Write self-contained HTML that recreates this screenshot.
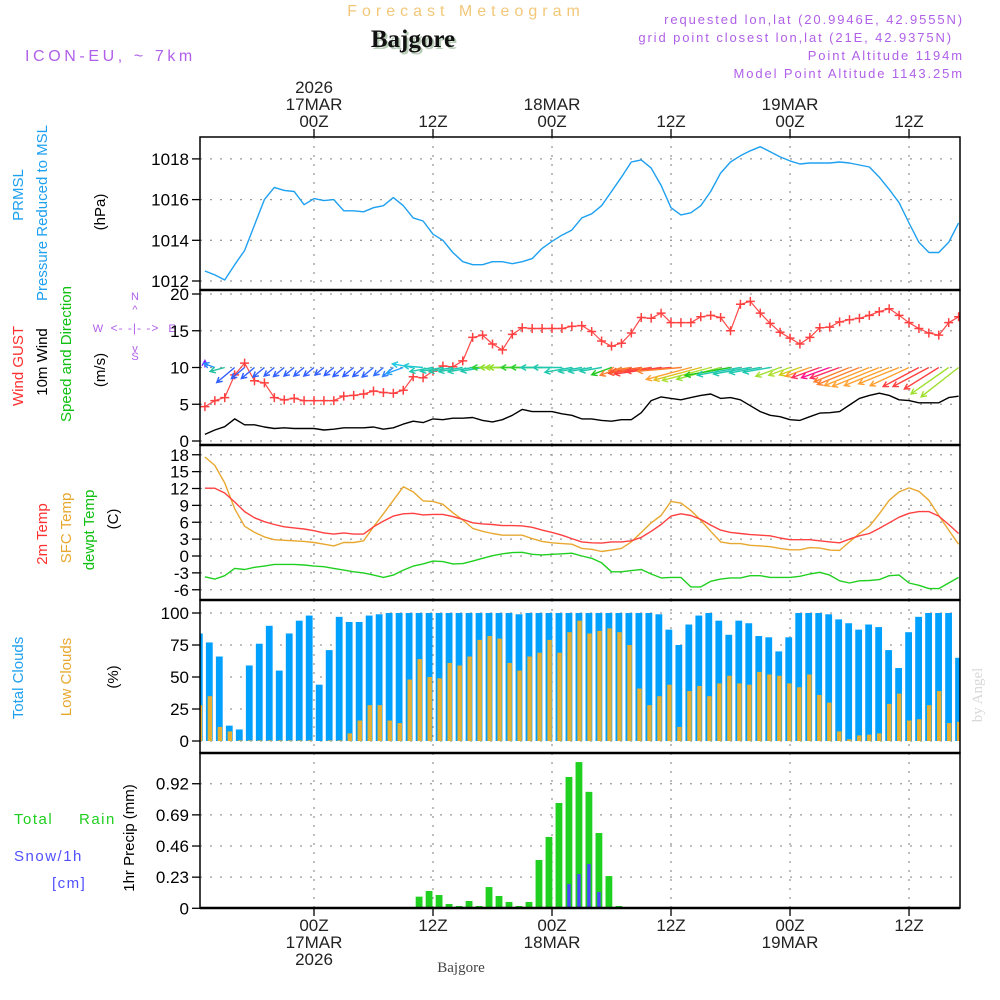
<!DOCTYPE html>
<html><head><meta charset="utf-8"><title>Forecast Meteogram Bajgore</title>
<style>
html,body{margin:0;padding:0;background:#fff;}
svg{display:block;font-family:"Liberation Sans",sans-serif;}
</style></head>
<body>
<svg id="chart" width="1000" height="1000" viewBox="0 0 1000 1000" xmlns="http://www.w3.org/2000/svg">
  <text x="466" y="16" text-anchor="middle" font-size="16" letter-spacing="5" fill="#f2c878">Forecast Meteogram</text>
  <text x="415" y="49" text-anchor="middle" font-size="25" font-weight="bold" font-family="Liberation Serif, serif" fill="#b8ccb8">Bajgore</text>
  <text x="413" y="47" text-anchor="middle" font-size="25" font-weight="bold" font-family="Liberation Serif, serif" fill="#111">Bajgore</text>
  <text x="25" y="61" font-size="16" letter-spacing="3.6" fill="#b060e8">ICON-EU, ~ 7km</text>
  <g font-size="13" letter-spacing="1.9" fill="#b060e8" text-anchor="end">
    <text x="964" y="24">requested lon,lat (20.9946E, 42.9555N)</text>
    <text x="953" y="42">grid point closest lon,lat (21E, 42.9375N)</text>
    <text x="964" y="60">Point Altitude 1194m</text>
    <text x="964" y="78">Model Point Altitude 1143.25m</text>
  </g>
  <text x="982" y="695" transform="rotate(-90 982 695)" text-anchor="middle" font-size="15" font-family="Liberation Serif, serif" fill="#d8d8d8">by Angel</text>
  <text x="461" y="972" text-anchor="middle" font-size="15" font-family="Liberation Serif, serif" fill="#444">Bajgore</text>

  <g font-size="15">
    <text transform="translate(23,195) rotate(-90)" text-anchor="middle" fill="#1ea0f0">PRMSL</text>
    <text transform="translate(47,213) rotate(-90)" text-anchor="middle" fill="#1ea0f0">Pressure Reduced to MSL</text>
    <text transform="translate(105,212) rotate(-90)" text-anchor="middle" fill="#000">(hPa)</text>
    <text transform="translate(23,366) rotate(-90)" text-anchor="middle" fill="#ff3030">Wind GUST</text>
    <text transform="translate(47,362) rotate(-90)" text-anchor="middle" fill="#000">10m Wind</text>
    <text transform="translate(71,354) rotate(-90)" text-anchor="middle" fill="#10c010">Speed and Direction</text>
    <text transform="translate(105,370) rotate(-90)" text-anchor="middle" fill="#000">(m/s)</text>
    <text transform="translate(47,534) rotate(-90)" text-anchor="middle" fill="#ff3030">2m Temp</text>
    <text transform="translate(71,528) rotate(-90)" text-anchor="middle" fill="#e8a830">SFC Temp</text>
    <text transform="translate(94,530) rotate(-90)" text-anchor="middle" fill="#10c010">dewpt Temp</text>
    <text transform="translate(118,519) rotate(-90)" text-anchor="middle" fill="#000">(C)</text>
    <text transform="translate(23,678) rotate(-90)" text-anchor="middle" fill="#1ea0f0">Total Clouds</text>
    <text transform="translate(71,677) rotate(-90)" text-anchor="middle" fill="#e8a830">Low Clouds</text>
    <text transform="translate(118,677) rotate(-90)" text-anchor="middle" fill="#000">(%)</text>
    <text transform="translate(134,838) rotate(-90)" text-anchor="middle" fill="#000">1hr Precip (mm)</text>
  </g>
  <g font-size="15" letter-spacing="1.5">
    <text x="14" y="824" fill="#20d020">Total</text>
    <text x="79" y="824" fill="#20d020">Rain</text>
    <text x="14" y="861" fill="#5050ff">Snow/1h</text>
    <text x="52" y="888" fill="#5050ff">[cm]</text>
  </g>
  <g fill="#b060e8" font-size="11">
    <text x="135" y="300" text-anchor="middle">N</text>
    <text x="135" y="313" text-anchor="middle">^</text>
    <text x="135" y="352" text-anchor="middle">v</text>
    <text x="135" y="360" text-anchor="middle">S</text>
    <text x="98" y="332" text-anchor="middle">W</text>
    <text x="172" y="332" text-anchor="middle">E</text>
    <text x="135" y="332" text-anchor="middle" font-size="12" letter-spacing="1">&lt;- -|- -&gt;</text>
  </g>
  <g id="plot"></g>
</svg>
<script>
const hourStart = -11;
const pressure = [1012.49,1012.3,1012.05,1012.8,1013.5,1014.75,1016,1016.6,1016.45,1016.4,1015.75,
1016.05,1015.95,1016,1015.45,1015.45,1015.4,1015.6,1015.7,1016.1,1015.7,1015.1,1014.95,
1014.3,1014.0,1013.4,1012.95,1012.8,1012.8,1012.95,1012.95,1012.85,1012.95,1013.1,1013.6,
1013.95,1014.25,1014.5,1015.1,1015.3,1015.7,1016.4,1017.1,1017.85,1017.95,1017.55,1016.7,
1015.6,1015.25,1015.35,1015.7,1016.4,1017.3,1017.85,1018.15,1018.4,1018.6,1018.35,1018.1,
1017.9,1017.75,1017.8,1017.8,1017.8,1017.85,1017.8,1017.7,1017.6,1017.1,1016.5,1015.85,
1014.85,1013.9,1013.4,1013.4,1013.9,1014.85];
const gust = [4.67,5.5,5.9,9.0,10.6,8.2,7.9,5.9,5.6,5.8,5.5,
5.5,5.5,5.5,6.1,6.2,6.4,6.8,6.6,6.5,6.9,8.75,8.6,
9.5,10.2,10.1,10.9,14.1,14.4,13.2,12.4,14.5,15.4,15.3,15.3,
15.3,15.3,15.6,15.7,14.9,13.6,12.9,13.3,14.7,16.8,16.7,17.4,
16.1,16.1,16.1,16.9,17.1,16.8,15.0,18.6,19.0,17.4,16.0,14.8,
14.0,13.2,14.1,15.4,15.5,16.2,16.5,16.7,17.1,17.6,18.0,17.1,
16.1,15.3,14.7,14.4,16.1,16.9];
const windSpeed = [0.9,1.5,1.95,3.0,2.2,2.2,1.9,1.7,1.8,1.7,1.7,
1.7,1.5,1.6,1.8,1.8,1.8,1.9,1.6,1.8,2.3,2.7,2.5,
3.0,2.9,3.1,3.1,3.2,2.8,2.6,2.9,3.5,4.3,4.0,4.0,
4.0,3.7,3.5,3.0,3.0,2.8,2.7,2.9,2.9,3.85,5.5,6.0,
5.8,5.6,5.9,6.2,6.4,5.8,5.9,5.6,4.8,4.0,3.5,3.3,
2.9,2.8,3.3,3.8,3.85,4.0,4.9,5.8,6.2,6.5,6.2,5.6,
5.5,5.2,5.2,5.2,5.9,6.1];
const windDir = [180,110,75,50,50,50,50,50,50,50,50,
50,50,50,50,50,50,50,50,50,70,100,95,
80,80,80,80,80,80,90,90,90,90,90,90,
90,90,80,80,80,80,70,70,82,82,82,82,
85,85,75,75,75,75,80,80,80,80,80,70,
70,70,70,70,70,70,68,68,68,68,68,68,
65,62,62,58,55,52];
const windColor = ["#9020ff","#2090ff","#20c0a0","#3060ff","#3060ff","#3060ff","#3060ff","#3060ff","#3060ff","#3060ff","#3060ff",
"#3060ff","#3060ff","#3060ff","#3060ff","#3060ff","#3060ff","#3068ff","#3070ff","#3080ff","#20a0ff","#20c8e0","#20c8d0",
"#20c8b0","#20c8b0","#20c8b0","#20c8b0","#20c8b0","#20c8b0","#30d030","#90e030","#a0e030","#90e030","#30d030","#30d030",
"#20c8b0","#20c8b0","#20c8b0","#20c8b0","#20c8b0","#20c8b0","#20c820","#ff8030","#ff8030","#ff6030","#ff5030","#ff4040",
"#ff4040","#ff8030","#ffa030","#e0c020","#b0e030","#90e030","#20c820","#20c8b0","#20c8b0","#20c8b0","#20c8b0","#a0e030",
"#b0e030","#d0d020","#ffa030","#ff3060","#ff1090","#ff3060","#ff8030","#ff8030","#ffa030","#ffa030","#ffa030","#ffa030",
"#ffa030","#ff4040","#ff4040","#ff4040","#a0e030","#a0e030"];
const temp2m = [12.06,12.06,11.2,9.6,7.9,6.8,6.1,5.6,5.2,5.0,4.8,
4.5,4.1,3.9,4.1,3.9,3.9,5.2,6.2,7.1,7.5,7.6,7.3,
7.4,7.4,7.0,6.5,5.9,5.7,5.6,5.4,5.4,5.35,5.1,4.6,
4.2,3.7,3.1,2.5,2.35,2.3,2.5,2.5,2.7,3.3,4.4,5.6,
7.1,7.5,7.2,6.5,5.5,4.6,4.2,4.0,3.8,3.7,3.6,3.2,
2.9,2.9,2.9,2.7,2.5,2.35,3.0,3.6,4.0,4.9,5.9,6.9,
7.6,7.9,7.9,7.1,5.6,4.0];
const tempSfc = [17.6,16.1,13.0,8.4,5.3,4.2,3.4,2.9,2.8,2.7,2.6,
2.4,2.1,1.8,2.4,2.4,2.7,5.2,7.5,9.9,12.3,11.4,9.8,
9.7,9.2,7.7,6.4,4.9,4.4,4.0,3.7,3.7,3.7,3.1,2.6,
2.35,2.2,2.1,1.35,1.2,0.8,1.05,1.35,2.5,4.2,5.9,7.2,
9.7,9.4,8.1,6.35,4.4,2.5,2.2,2.2,1.9,1.8,1.65,1.35,
1.1,1.1,1.5,1.4,1.05,1.0,2.5,4.0,5.3,7.5,9.9,11.4,
12.1,11.5,9.9,7.2,4.6,2.1];
const dewpt = [-3.7,-4.1,-3.5,-2.2,-2.4,-2.0,-1.8,-1.5,-1.5,-1.5,-1.6,
-1.8,-1.9,-2.2,-2.5,-2.8,-3.0,-3.4,-3.8,-3.4,-2.5,-1.8,-1.4,
-0.9,-1.0,-1.4,-1.35,-0.9,-0.4,0.06,0.4,0.6,0.65,0.3,0.2,
0.3,0.4,0.5,0,-0.4,-1.2,-2.8,-2.8,-2.6,-2.4,-3.2,-3.9,
-3.8,-3.8,-5.5,-5.5,-4.5,-4.1,-3.9,-3.9,-3.5,-3.5,-3.8,-3.8,
-3.8,-3.6,-3.2,-2.9,-3.4,-4.4,-4.8,-4.4,-4.35,-4.2,-3.5,-3.4,
-4.8,-5.2,-5.8,-5.8,-4.8,-3.8];
const barStart = -11.5;
const totalClouds = [84,77,66,12,9,59,76,90,55,84,
94,98,44,71,97,93,93,98,99,100,
100,100,100,100,100,100,100,100,100,100,
100,100,99,100,100,100,100,100,100,
100,100,100,100,100,100,100,99,87,75,91,
98,100,94,83,94,92,82,81,70,81,
100,100,100,99,95,92,87,91,89,71,
57,85,97,100,100,100,65];
const lowClouds = [28,35,11,7.5,0.5,0.5,0.5,0.5,0.5,0.5,
0.5,0.5,0,0.5,0.5,6,16,28,28,16,
14,48,64,50,49,61,59,66,79,82,
80,61,55,66,69,79,69,85,94,
84,86,88,85,75,41,28,35,44,11,39,
43,35,45,51,45,44,54,52,51,45,
42,52,36,30,7.5,1.3,4.4,5,6,29,
37,16,17,28,39,14,15];
const rain = [0,0,0,0,0,0,0,0,0,0,
0,0,0,0,0,0,0,0,0,0,
0,0,0.086,0.128,0.098,0.032,0.017,0.054,0.017,0.157,
0.091,0.047,0.017,0.047,0.357,0.527,0.778,0.97,1.08,0.86,
0.556,0.238,0.017,0,0,0,0,0,0,0,
0,0,0,0,0,0,0,0,0,0,
0,0,0,0,0,0,0,0,0,0,
0,0,0,0,0,0,0];
const snow = [0,0,0,0,0,0,0,0,0,0,
0,0,0,0,0,0,0,0,0,0,
0,0,0,0,0,0,0,0,0,0,
0,0,0,0,0,0.005,0.01,0.18,0.253,0.327,
0.12,0,0,0,0,0,0,0,0,0,
0,0,0,0,0,0,0,0,0,0,
0,0,0,0,0,0,0,0,0,0,
0,0,0,0,0,0,0];
const pressureTicks = [1012,1014,1016,1018];
const windTicks = [0,5,10,15,20];
const tempTicks = [-6,-3,0,3,6,9,12,15,18];
const cloudTicks = [0,25,50,75,100];
const precipTicks = [0,0.23,0.46,0.69,0.92];
const timeTicks = [0,12,24,36,48,60];
const topLabels = [["2026","17MAR","00Z"],["12Z"],["18MAR","00Z"],["12Z"],["19MAR","00Z"],["12Z"]];
const bottomLabels = [["00Z","17MAR","2026"],["12Z"],["00Z","18MAR"],["12Z"],["00Z","19MAR"],["12Z"]];

const X0 = 200, X1 = 960;
const xH = h => 314 + h * 9.917;
const xB = t => 314.2 + t * 9.99;
const yP = v => 281 - (v - 1012) * 20.35;
const yW = v => 441 - v * 7.35;
const yT = v => 556 - v * 5.625;
const yC = v => 741 - v * 1.28;
const yR = v => 908.3 - v * 135.4;
const panels = [
  {name:'pressure', top:137, bot:290, ticks:pressureTicks, y:yP, fmt:v=>String(v)},
  {name:'wind', top:290, bot:445, ticks:windTicks, y:yW, fmt:v=>String(v)},
  {name:'temp', top:445, bot:600, ticks:tempTicks, y:yT, fmt:v=>String(v)},
  {name:'clouds', top:600, bot:753, ticks:cloudTicks, y:yC, fmt:v=>String(v)},
  {name:'precip', top:753, bot:908, ticks:precipTicks, y:yR, fmt:v=>v===0?'0':v.toFixed(2)}
];

const NS = 'http://www.w3.org/2000/svg';
const root = document.getElementById('plot');
function mk(tag, attrs, parent) {
  const e = document.createElementNS(NS, tag);
  for (const k in attrs) e.setAttribute(k, attrs[k]);
  (parent || root).appendChild(e);
  return e;
}

const defs = mk('defs', {});
const clip = mk('clipPath', {id:'plotclip'}, defs);
mk('rect', {x:X0, y:137, width:X1-X0, height:771}, clip);

panels.forEach(p => {
  const g = mk('g', {});
  
  
  timeTicks.forEach(h => {
    const l = mk('line', {x1:xH(h), x2:xH(h), y1:p.top, y2:p.bot, stroke:'#9a9a9a', 'stroke-width':1.3, 'stroke-dasharray':'2 7'}, g);
    
    
  });
  p.ticks.forEach(v => {
    const yy = p.y(v);
    const gl = mk('line', {x1:X0, x2:X1, y1:yy, y2:yy, stroke:'#9a9a9a', 'stroke-width':1.3, 'stroke-dasharray':'2 8'}, g);
    
    
    const tk = mk('line', {x1:192, x2:X0, y1:yy, y2:yy, stroke:'#000', 'stroke-width':1.3}, g);
    
    
    const t = mk('text', {x:189, y:yy+6, 'text-anchor':'end', 'font-size':17, fill:'#000'}, g);
    t.textContent = p.fmt(v);
    
    
  });
});

timeTicks.forEach((h, i) => {
  const x = xH(h);
  const tk = mk('line', {x1:x, x2:x, y1:129, y2:137, stroke:'#000', 'stroke-width':1.3});
  
  
  const lines = topLabels[i];
  lines.forEach((s, j) => {
    const t = mk('text', {x:x, y:127 - (lines.length - 1 - j) * 17, 'text-anchor':'middle', 'font-size':17, fill:'#222'});
    t.textContent = s;
    
    
  });
  const tb = mk('line', {x1:x, x2:x, y1:908, y2:916, stroke:'#000', 'stroke-width':1.3});
  
  
  bottomLabels[i].forEach((s, j) => {
    const t = mk('text', {x:x, y:931 + j * 17, 'text-anchor':'middle', 'font-size':17, fill:'#222'});
    t.textContent = s;
    
    
  });
});

const plot = mk('g', {'clip-path':'url(#plotclip)'});



function linePath(arr, yf, color, name, w) {
  const d = arr.map((v, i) => (i ? 'L' : 'M') + xH(hourStart + i).toFixed(1) + ',' + yf(v).toFixed(1)).join('');
  const p = mk('path', {d:d, fill:'none', stroke:color, 'stroke-width':w || 1.4, 'stroke-linejoin':'round'}, plot);
  
  
  return p;
}

linePath(pressure, yP, '#1ea0f0', 'pressure-line', 1.4);
linePath(windSpeed, yW, '#000', 'wind-speed-line', 1.4);
linePath(gust, yW, '#ff4848', 'gust-line', 1.2);
gust.forEach((v, i) => {
  const x = xH(hourStart + i), y = yW(v);
  const c = mk('path', {d:`M${x-4.5},${y}H${x+4.5}M${x},${y-4.5}V${y+4.5}`, stroke:'#ff4040', 'stroke-width':1.5}, plot);
  
  
});
windDir.forEach((dir, i) => {
  const x = xH(hourStart + i), y = yW(10);
  const L = windSpeed[i] * 7.8;
  const to = (dir + 180) * Math.PI / 180;
  const dx = Math.sin(to) * L, dy = -Math.cos(to) * L;
  const tx = x + dx, ty = y + dy;
  const ang = Math.atan2(dy, dx);
  const hl = 6, ha = 0.5;
  const h1x = tx - hl * Math.cos(ang - ha), h1y = ty - hl * Math.sin(ang - ha);
  const h2x = tx - hl * Math.cos(ang + ha), h2y = ty - hl * Math.sin(ang + ha);
  const a = mk('path', {d:`M${x},${y}L${tx},${ty}M${h1x},${h1y}L${tx},${ty}L${h2x},${h2y}`, fill:'none', stroke:windColor[i], 'stroke-width':1.4}, plot);
  
  
});

linePath(tempSfc, yT, '#e8a830', 'sfc-temp-line', 1.4);
linePath(temp2m, yT, '#ff4040', '2m-temp-line', 1.4);
linePath(dewpt, yT, '#20d020', 'dewpt-line', 1.4);

totalClouds.forEach((v, i) => {
  const xc = xB(barStart + i);
  const r = mk('rect', {x:xc - 3.4, y:yC(v), width:6.8, height:yC(0) - yC(v), fill:'#00a0ff'}, plot);
  
  
});
lowClouds.forEach((v, i) => {
  const xc = xB(barStart + i);
  const r = mk('rect', {x:xc - 1.6, y:yC(v), width:4.4, height:yC(0) - yC(v), fill:'#e8b030'}, plot);
  
  
});

rain.forEach((v, i) => {
  if (v <= 0) return;
  const xc = xB(barStart + i);
  const r = mk('rect', {x:xc - 3.4, y:yR(v), width:6.8, height:yR(0) - yR(v), fill:'#20d020'}, plot);
  
  
});
snow.forEach((v, i) => {
  if (v <= 0) return;
  const xc = xB(barStart + i);
  const r = mk('rect', {x:xc - 1.7, y:yR(v), width:3.4, height:yR(0) - yR(v), fill:'#4848ff'}, plot);
  
  
});

panels.forEach(p => {
  const f = mk('rect', {x:X0, y:p.top, width:X1-X0, height:p.bot-p.top, fill:'none', stroke:'#000', 'stroke-width':1.5});
  
  
});
[290,445,600,753].forEach(y => {
  const s = mk('line', {x1:X0, x2:X1, y1:y, y2:y, stroke:'#000', 'stroke-width':2.5});
  
  
});
const base = mk('line', {x1:X0, x2:X1, y1:908, y2:908, stroke:'#000', 'stroke-width':2.5});


</script>
</body></html>
